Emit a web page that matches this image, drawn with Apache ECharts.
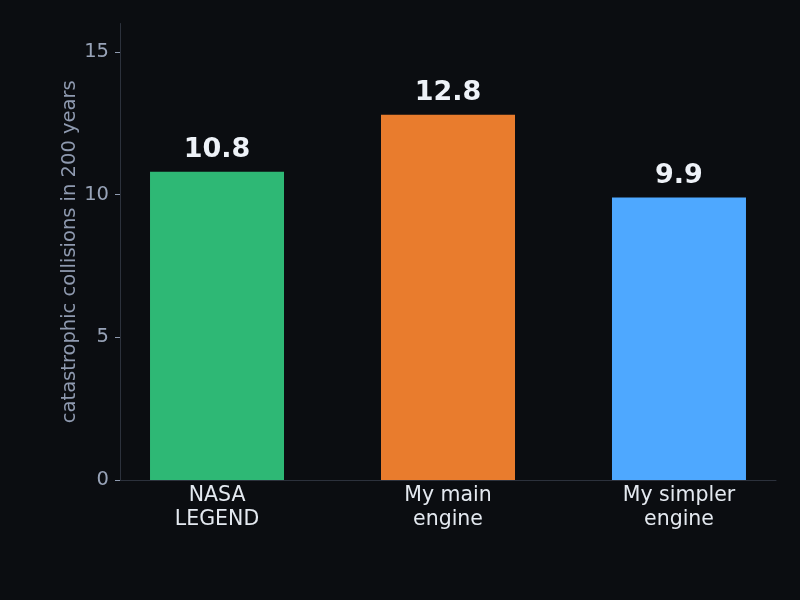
<!DOCTYPE html>
<html>
<head>
<meta charset="utf-8">
<script src="https://cdn.jsdelivr.net/npm/echarts@6/dist/echarts.min.js"></script>
<style>
  html, body { margin: 0; padding: 0; background: #0b0d11; }
  #chart { width: 800px; height: 600px; }
</style>
</head>
<body>
<div id="chart"></div>
<script>
// categories and values
var categories = ['NASA\nLEGEND', 'My main\nengine', 'My simpler\nengine'];
var collisions = [10.8, 12.8, 9.9];
var barColors = ['#2eb875', '#e97c2d', '#4ea8ff'];
var yTicks = [0, 5, 10, 15];

var chart = echarts.init(document.getElementById('chart'));

var barData = collisions.map(function (v, i) {
  return { value: [i, v], itemStyle: { color: barColors[i] } };
});

chart.setOption({
  backgroundColor: '#0b0d11',
  animation: false,
  grid: { left: 120, right: 24, top: 23.5, bottom: 120 },
  xAxis: {
    type: 'value',
    min: -0.42,
    max: 2.42,
    splitLine: { show: false },
    axisLine: { show: true, onZero: false, lineStyle: { color: '#2c313c', width: 1 } },
    axisTick: { show: false },
    axisLabel: {
      customValues: [0, 1, 2],
      formatter: function (v) { return categories[Math.round(v)]; },
      color: '#e4e9f0',
      fontFamily: 'DejaVu Sans',
      fontSize: 20.5,
      lineHeight: 24,
      margin: 4
    }
  },
  yAxis: {
    type: 'value',
    min: 0,
    max: 16,
    name: 'catastrophic collisions in 200 years',
    nameLocation: 'middle',
    nameGap: 40,
    nameMoveOverlap: false,
    nameTextStyle: { color: '#8f9ab0', fontFamily: 'DejaVu Sans', fontSize: 19.5 },
    splitLine: { show: false },
    axisLine: { show: true, onZero: false, lineStyle: { color: '#2c313c', width: 1 } },
    axisTick: { show: true, customValues: yTicks, length: 5, lineStyle: { color: '#8f9ab0' } },
    axisLabel: {
      customValues: yTicks,
      color: '#98a3b8',
      fontFamily: 'DejaVu Sans',
      fontSize: 19.5,
      margin: 11
    }
  },
  series: [{
    type: 'bar',
    data: barData,
    barWidth: 134,
    label: {
      show: true,
      position: 'top',
      distance: 8,
      formatter: function (p) { return p.value[1].toFixed(1); },
      color: '#eef2f8',
      fontFamily: 'DejaVu Sans',
      fontWeight: 'bold',
      fontSize: 27
    }
  }]
});
</script>
</body>
</html>
